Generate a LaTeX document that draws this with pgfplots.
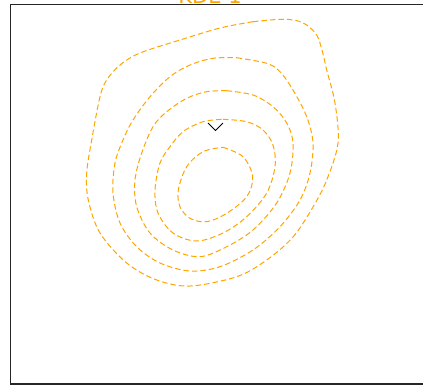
\documentclass[border=0pt]{standalone}
\usepackage{fontspec}
\setmainfont{DejaVu Sans}
\usepackage{pgfplots}
\pgfplotsset{compat=1.18}
\definecolor{kdeorange}{HTML}{FFA500}
\begin{document}
\begin{tikzpicture}
\path[use as bounding box] (0,0) rectangle (423pt,-385pt);
\clip (0,0) rectangle (423pt,-385pt);
\begin{axis}[
  at={(10.5pt,-4.5pt)}, anchor=north west,
  scale only axis, width=429.5pt, height=379.5pt,
  xmin=10.5, xmax=440, ymin=4.5, ymax=384,
  y dir=reverse,
  ticks=none,
  axis line style={line width=1.3pt, color=black!85},
  clip=false,
  kde/.style={color=kdeorange, line width=1pt, dash pattern=on 5.5pt off 3pt, smooth, tension=0.55, mark=none},
]
\node[anchor=base, text=kdeorange, font=\fontsize{21}{24}\selectfont] at (axis cs:210,3.5) {KDE 1};
% outer contour
\addplot[kde] coordinates {(253,21.7) (280,19.3) (296,20.5) (306.7,25) (316.7,35) (322,50) (326.7,70) (335,103) (338,143) (326.7,180) (313,207) (293,237) (266.7,260) (236.7,276.7) (190,286) (156.7,280) (126.7,263) (100,233) (88.3,200) (86.7,173) (91.7,140) (100,96.7) (106.7,80) (120,65) (140,53) (180,40) (220,28) (253,21.7)};
\addplot[kde] coordinates {(236.7,57.7) (266.7,63.3) (280,71.7) (293,90) (306.7,116.7) (313,143) (310,173) (300,200) (280,226.7) (253,250) (220,266.7) (190,271) (160,263) (136.7,246.7) (120,223) (113,193) (115,163) (123,140) (133,120) (150,96.7) (170,76.7) (190,65) (213,58.3) (236.7,57.7)};
\addplot[kde] coordinates {(226.7,90.7) (253,95) (273,106.7) (286.7,123) (293,143) (290,173) (276.7,203) (253,230) (226.7,246.7) (200,256.7) (173,250) (150,233) (136.7,206.7) (135,180) (141.7,153) (153,126.7) (166.7,111.7) (186.7,98.3) (206.7,91.7) (226.7,90.7)};
\addplot[kde] coordinates {(223,119.3) (246.7,121.7) (263,130) (273,145) (275,166.7) (266.7,193) (246.7,216.7) (223,233) (196.7,241) (173,233) (158,213) (155,190) (160,163) (170,146.7) (183,131.7) (203,121.7) (223,119.3)};
\addplot[kde] coordinates {(223,147.3) (243,156.7) (252.7,176.7) (246.7,196.7) (226.7,213.3) (206.7,221.7) (190,218.3) (180,206.7) (178.3,190) (186.7,166.7) (203,151.7) (223,147.3)};
% chevron marker
\addplot[black, solid, line width=0.8pt, sharp plot, mark=none] coordinates {(208,123) (215.5,130.5) (223,123)};
\end{axis}
\end{tikzpicture}
\end{document}
